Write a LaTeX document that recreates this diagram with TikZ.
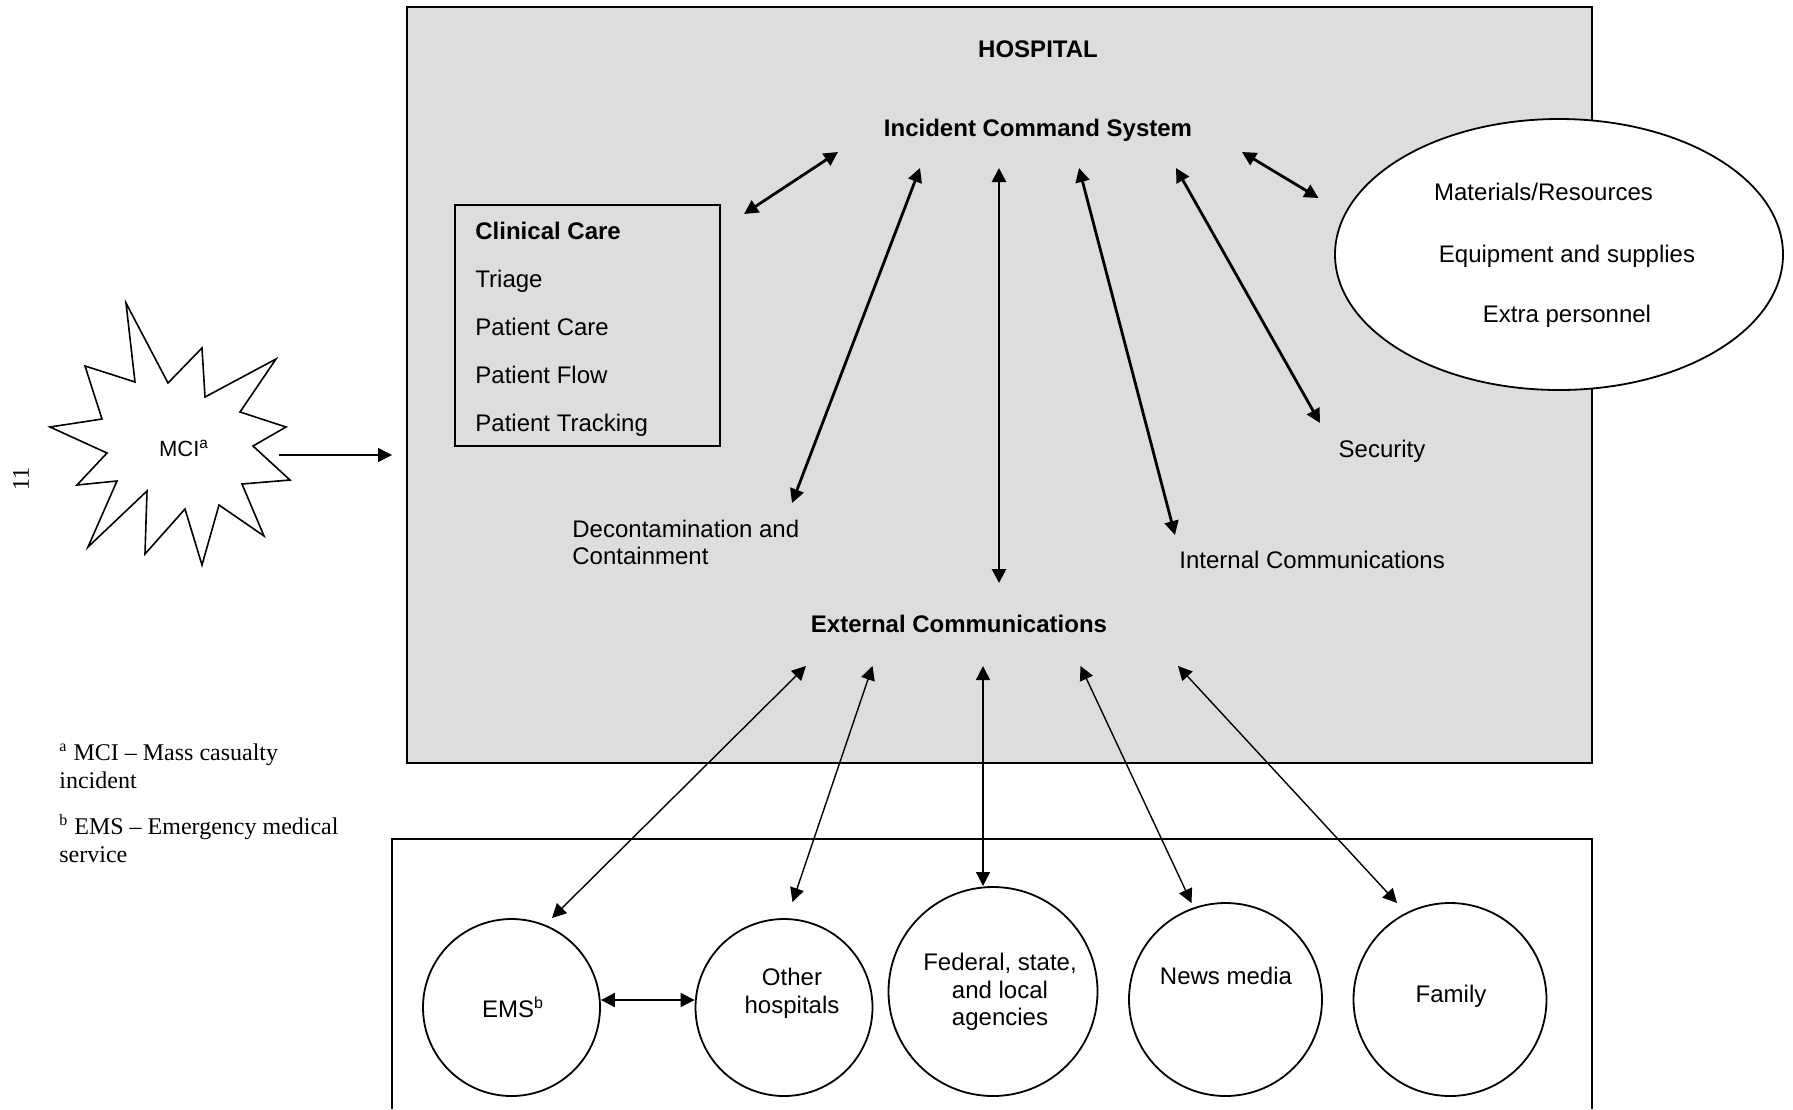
\documentclass[tikz,12pt,border=0pt]{standalone}
\usepackage{fontspec}
\setmainfont{Liberation Sans}
\newfontfamily\notefont{Liberation Serif}
\usetikzlibrary{arrows.meta, shapes.geometric}
\definecolor{hospitalgray}{HTML}{DDDDDD}

\begin{document}
\begin{tikzpicture}[x=0.5pt, y=-0.5pt,
    every node/.style = {inner sep=0pt},
    >={Triangle[length=7pt, width=7pt]},
    box/.style = {rectangle, draw, line width=0.8pt},
    agency/.style = {circle, draw, line width=0.9pt, fill=white},
    multiline/.style = {align=center, font=\fontsize{12}{13.75}\selectfont},
    footnote/.style = {anchor=north west, align=left, font=\notefont\fontsize{12}{14}\selectfont},
    link/.style = {<->, line width=1.4pt},
    thin link/.style = {<->, line width=0.7pt}]
  \useasboundingbox (0, 0) rectangle (1793, 1109);

  % Hospital.
  \node at (999.5, 385) [box, fill=hospitalgray, minimum width=592.5pt, minimum height=378pt, name=Hospital] {};
  \node at (1038, 57) [anchor=base, font=\bfseries, name=HospitalTitle] {HOSPITAL};
  \node at (1038, 136) [anchor=base, font=\bfseries, name=ICS] {Incident Command System};
  \node at (959, 632) [anchor=base, font=\bfseries, name=ExternalComms] {External Communications};

  \node at (587.5, 325.5) [box, minimum width=132.5pt, minimum height=120.5pt, name=ClinicalCare] {};
  \node at (475, 221.5) [anchor=north west, align=left, font=\fontsize{12}{24}\selectfont, name=ClinicalList]
        {\textbf{Clinical Care}\\Triage\\Patient Care\\Patient Flow\\Patient Tracking};

  \node at (572, 519.5) [anchor=north west, multiline, align=left, name=Decontamination] {Decontamination and\\Containment};
  \node at (1179, 568) [anchor=base west, name=InternalComms] {Internal Communications};
  \node at (1382, 457.5) [anchor=base, name=Security] {Security};

  \node at (1559, 254.5) [ellipse, draw, line width=0.9pt, fill=white, minimum width=224pt, minimum height=135.5pt, name=Resources] {};
  \node at (1543.5, 200) [anchor=base, name=Materials] {Materials/Resources};
  \node at (1567, 262) [anchor=base, name=Equipment] {Equipment and supplies};
  \node at (1567, 322) [anchor=base, name=Personnel] {Extra personnel};

  % Mass casualty incident.
  \draw [line width=0.8pt, fill=white]
        (126, 303) -- (168, 383) -- (202, 348) -- (205, 397) -- (276, 359) -- (240, 412)
        -- (286, 427) -- (253, 446) -- (290, 480) -- (242, 484) -- (264, 536) -- (219, 505)
        -- (202, 565) -- (185, 509) -- (145, 554) -- (147, 491) -- (88, 547) -- (117, 481)
        -- (77, 485) -- (107, 453) -- (50, 427) -- (102, 419) -- (85, 366) -- (135, 382) -- cycle;
  \node at (184, 456) [anchor=base, font=\fontsize{11}{13}\selectfont, name=MCI] {MCI\textsuperscript{a}};
  \coordinate (mci-out) at (279, 455);
  \coordinate (hospital-in) at (392, 455);
  \draw [->, line width=0.7pt] (mci-out) -- (hospital-in);

  % Notes and page number.
  \node at (59, 743.5) [footnote, name=NoteMCI] {\textsuperscript{a} MCI – Mass casualty\\incident};
  \node at (59, 814) [footnote, name=NoteEMS] {\textsuperscript{b} EMS – Emergency medical\\service};
  \node at (21, 479) [rotate=90, font=\notefont, name=PageNumber] {11};

  % Outside agencies.
  \draw [line width=0.8pt] (392, 1109) |- (1592, 839) -- (1592, 1109);
  \node at (511.5, 1007.5) [agency, minimum size=88.5pt, name=EMS] {};
  \node at (784, 1007.5) [agency, minimum size=88.5pt, name=OtherHospitals] {};
  \node at (993, 991.5) [agency, minimum size=104.5pt, name=Agencies] {};
  \node at (1225.5, 999.5) [agency, minimum size=96.5pt, name=NewsMedia] {};
  \node at (1450, 999.5) [agency, minimum size=96.5pt, name=Family] {};

  \node at (513, 1017) [anchor=base, name=EMSText] {EMS\textsuperscript{b}};
  \node at (792, 968) [anchor=north, multiline, name=OtherText] {Other\\hospitals};
  \node at (1000, 953) [anchor=north, multiline, name=AgenciesText] {Federal, state,\\and local\\agencies};
  \node at (1226, 984) [anchor=base, name=NewsText] {News media};
  \node at (1451, 1002) [anchor=base, name=FamilyText] {Family};

  % Link ends around the Incident Command System.
  \coordinate (ics-clinical) at (838, 152);
  \coordinate (clinical) at (744, 214);
  \coordinate (ics-decon) at (920, 168);
  \coordinate (decon) at (792, 503);
  \coordinate (ics-external) at (999, 168);
  \coordinate (external) at (999, 583);
  \coordinate (ics-internal) at (1079, 168);
  \coordinate (internal) at (1175, 535);
  \coordinate (ics-security) at (1176, 168);
  \coordinate (security) at (1320, 423);
  \coordinate (ics-resources) at (1242, 152);
  \coordinate (resources) at (1318.5, 198);

  \draw [link] (clinical) -- (ics-clinical);
  \draw [link] (decon) -- (ics-decon);
  \draw [link] (external) -- (ics-external);
  \draw [link] (internal) -- (ics-internal);
  \draw [link] (security) -- (ics-security);
  \draw [link] (resources) -- (ics-resources);

  % Link ends around External Communications.
  \coordinate (ext-ems) at (806, 666);
  \coordinate (ems) at (552, 918);
  \coordinate (ext-other) at (872.5, 666);
  \coordinate (other) at (792.5, 902);
  \coordinate (ext-agencies) at (983, 666);
  \coordinate (agencies) at (983, 886);
  \coordinate (ext-news) at (1080.5, 666);
  \coordinate (news) at (1191.5, 903);
  \coordinate (ext-family) at (1178, 666);
  \coordinate (family) at (1397, 903);

  \draw [thin link] (ext-ems) -- (ems);
  \draw [thin link] (ext-other) -- (other);
  \draw [thin link] (ext-agencies) -- (agencies);
  \draw [thin link] (ext-news) -- (news);
  \draw [thin link] (ext-family) -- (family);
  \draw [thin link, line width=1pt] ([yshift=3.75pt]EMS.east) -- ([yshift=3.75pt]OtherHospitals.west);
\end{tikzpicture}
\end{document}
